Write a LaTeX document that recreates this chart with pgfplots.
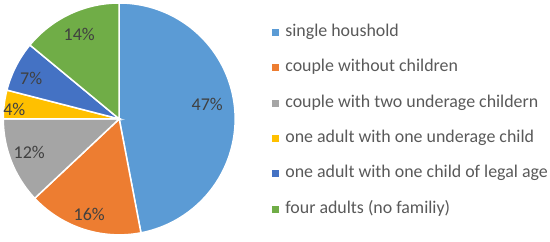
\documentclass[border=0pt]{standalone}
\usepackage{fontspec}
\setmainfont{Carlito}
\usepackage{pgfplots}
\pgfplotsset{compat=1.18}
\definecolor{c1}{HTML}{5B9BD5}
\definecolor{c2}{HTML}{ED7D31}
\definecolor{c3}{HTML}{A5A5A5}
\definecolor{c4}{HTML}{FFC000}
\definecolor{c5}{HTML}{4472C4}
\definecolor{c6}{HTML}{70AD47}
\definecolor{lab}{HTML}{404040}
\definecolor{leg}{HTML}{595959}
% #1 cumulative start (%), #2 share (%), #3 colour
\newcommand\slice[3]{%
  \pgfmathsetmacro\aStart{90-3.6*(#1+#2)}%
  \pgfmathsetmacro\aEnd{90-3.6*#1}%
  \addplot[fill=#3, draw=white, line width=1.5bp, domain=\aStart:\aEnd, samples=90, variable=\t]
    ({cos(t)},{sin(t)}) -- (axis cs:0,0) -- cycle;
}
\begin{document}
\begin{tikzpicture}[x=1bp,y=1bp]
\path (0,0) rectangle (550,242);
\begin{axis}[at={(119bp,123bp)}, anchor=center, width=232bp, height=232bp,
  scale only axis, xmin=-1, xmax=1, ymin=-1, ymax=1, hide axis, clip=false]
\slice{0}{47}{c1}
\slice{47}{16}{c2}
\slice{63}{12}{c3}
\slice{75}{4}{c4}
\slice{79}{7}{c5}
\slice{86}{14}{c6}
\begin{scope}[every node/.style={text=lab, font=\fontsize{18bp}{20bp}\selectfont}]
\node at (axis cs:0.759,0.121) {47\%};
\node at (axis cs:-0.259,-0.828) {16\%};
\node at (axis cs:-0.776,-0.293) {12\%};
\node at (axis cs:-0.905,0.078) {4\%};
\node at (axis cs:-0.759,0.345) {7\%};
\node at (axis cs:-0.345,0.733) {14\%};
\end{scope}
\end{axis}
\begin{scope}[every node/.style={text=leg, anchor=base west, inner sep=0pt, font=\fontsize{17.9bp}{20bp}\selectfont}]
\fill[c1] (272,206) rectangle (279,213); \node at (285,205) {single houshold};
\fill[c2] (272,171) rectangle (279,178); \node at (285,170) {couple without children};
\fill[c3] (272,135) rectangle (279,142); \node at (285,134) {couple with two underage childern};
\fill[c4] (272,100) rectangle (279,107); \node at (285,99) {one adult with one underage child};
\fill[c5] (272,65) rectangle (279,72); \node at (285,64) {one adult with one child of legal age};
\fill[c6] (272,29) rectangle (279,36); \node at (285,28) {four adults (no familiy)};
\end{scope}
\end{tikzpicture}
\end{document}
